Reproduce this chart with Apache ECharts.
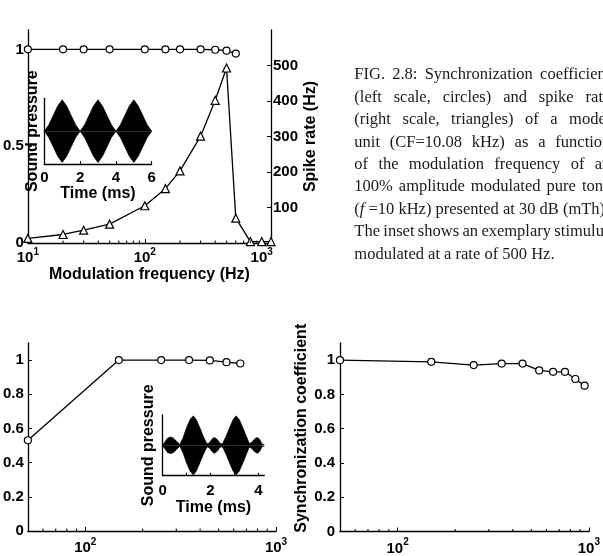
<!DOCTYPE html>
<html><head><meta charset="utf-8">
<script src="https://cdn.jsdelivr.net/npm/echarts@6/dist/echarts.min.js"></script>
<style>html,body{margin:0;padding:0;background:#fff}#c{width:603px;height:556px}</style>
</head><body><div id="c"></div><script>
// ---------- data ----------
const topFreqSync = [10, 20, 30, 50, 100, 150, 200, 300, 400, 500, 600];
const topSync = [1, 1, 1, 1, 1, 1, 1, 1, 0.998, 0.993, 0.978];
const topFreqRate = [10, 20, 30, 50, 100, 150, 200, 300, 400, 500, 600, 800, 1000, 1200];
const topRate = [13, 24, 36, 53, 105, 153, 203, 301, 402, 493, 70, 4, 4, 4];
const blFreq = [50, 150, 250, 350, 450, 550, 650];
const blSync = [0.531, 1.0, 1.0, 1.0, 0.998, 0.988, 0.980];
const brFreq = [50, 150, 250, 350, 450, 550, 650, 750, 850, 950];
const brSync = [1.0, 0.990, 0.971, 0.980, 0.980, 0.940, 0.932, 0.932, 0.890, 0.851];
// inset 1: envelope of the 500 Hz AM stimulus
const inset1Time = [0, 0.25, 0.5, 0.75, 1, 1.25, 1.5, 1.75, 2, 2.25, 2.5, 2.75, 3, 3.25, 3.5, 3.75, 4, 4.25, 4.5, 4.75, 5, 5.25, 5.5, 5.75, 6];
const inset1Env = [0, 0.2, 0.5, 0.8, 1, 0.8, 0.5, 0.2, 0, 0.2, 0.5, 0.8, 1, 0.8, 0.5, 0.2, 0, 0.2, 0.5, 0.8, 1, 0.8, 0.5, 0.2, 0];
// inset 2: envelope of the bottom-left stimulus
const inset2Time = [0, 0.1, 0.2, 0.33, 0.45, 0.6, 0.72, 0.85, 1.0, 1.15, 1.28, 1.4, 1.55, 1.7, 1.85, 1.95, 2.05, 2.16, 2.28, 2.4, 2.5, 2.65, 2.8, 2.95, 3.07, 3.2, 3.35, 3.5, 3.62, 3.72, 3.85, 3.96, 4.06, 4.15, 4.25];
const inset2Env = [0.02, 0.12, 0.24, 0.28, 0.24, 0.12, 0.03, 0.25, 0.6, 0.88, 1, 0.88, 0.6, 0.3, 0.05, 0.08, 0.2, 0.27, 0.2, 0.06, 0.05, 0.3, 0.6, 0.88, 1, 0.88, 0.6, 0.3, 0.06, 0.1, 0.22, 0.27, 0.2, 0.05, 0.02];
const minorTop = [20, 30, 40, 50, 60, 70, 80, 90, 200, 300, 400, 500, 600, 700, 800, 900];
const minorBottom = [60, 70, 80, 90, 200, 300, 400, 500, 600, 700, 800, 900];
const leftTicksTop = [0, 0.5, 1];
const rightTicksTop = [100, 200, 300, 400, 500];
const syncTicks = [0, 0.2, 0.4, 0.6, 0.8, 1];
const inset1Ticks = [0, 2, 4, 6];
const inset2Labels = [0, 2, 4];
const inset2Ticks = [0, 1, 2, 3, 4];
const captionLines = [
  "FIG. 2.8: Synchronization coefficient",
  "(left scale, circles) and spike rate",
  "(right scale, triangles) of a model",
  "unit (CF=10.08 kHz) as a function",
  "of the modulation frequency of an",
  "100% amplitude modulated pure tone",
  "(*f* =10 kHz) presented at 30 dB (mTh).",
  "The inset shows an exemplary stimulus",
  "modulated at a rate of 500 Hz."
];
const captionJustify = [true, true, true, true, true, true, false, true, false];

// ---------- helpers ----------
const FONT = '"Liberation Sans", Arial, sans-serif';
const zip = (a, b) => a.map((v, i) => [v, b[i]]);
const lbl = (size) => ({ fontFamily: FONT, fontWeight: 'bold', fontSize: size, color: '#000' });
const logFmt = v => {
  const l = Math.log10(v);
  if (Math.abs(l - Math.round(l)) < 1e-6) return '{b|10}{s|' + Math.round(l) + '}';
  return '';
};
const logRich = { b: { fontFamily: FONT, fontWeight: 'bold', fontSize: 15, color: '#000' },
                  s: { fontFamily: FONT, fontWeight: 'bold', fontSize: 10, color: '#000', padding: [0, 0, 12, 0] } };
const axLine = { show: true, onZero: false, lineStyle: { color: '#000', width: 1.3 } };

function logX(grid, min, max, margin) {
  return { type: 'log', logBase: 10, gridIndex: grid, min, max,
    axisLine: axLine, splitLine: { show: false },
    axisTick: { show: true, inside: true, length: 4, lineStyle: { color: '#000', width: 1 } },
    axisLabel: { formatter: logFmt, rich: logRich, margin } };
}
function valY(grid, min, max, ticks, margin, extra) {
  return Object.assign({ type: 'value', gridIndex: grid, min, max,
    axisLine: axLine, splitLine: { show: false },
    axisTick: { show: true, inside: true, length: 4, customValues: ticks, lineStyle: { color: '#000', width: 1 } },
    axisLabel: Object.assign(lbl(15), { customValues: ticks, margin }) }, extra || {});
}
function minorSeries(xi, yi, vals) {
  return { type: 'custom', xAxisIndex: xi, yAxisIndex: yi, silent: true, z: 5,
    data: vals.map(v => [v, 0]),
    renderItem: (params, api) => {
      const p = api.coord([api.value(0), api.value(1)]);
      return { type: 'line', shape: { x1: p[0], y1: p[1], x2: p[0], y2: p[1] - 2.5 },
               style: { stroke: '#000', lineWidth: 1 } };
    } };
}
const circle = { symbol: 'circle', symbolSize: 7, itemStyle: { color: '#fff', borderColor: '#000', borderWidth: 1.2 } };
const lineSt = { color: '#000', width: 1.3 };
function envSeries(xi, yi, t, env, sign) {
  return { type: 'line', xAxisIndex: xi, yAxisIndex: yi, showSymbol: false, silent: true,
    data: t.map((v, i) => [v, sign * env[i]]),
    lineStyle: { color: '#000', width: 0.8 }, areaStyle: { color: '#000', opacity: 1, origin: 0 } };
}

function buildCaption() {
  const ctx = document.createElement('canvas').getContext('2d');
  const fs = 16.5, fam = '"Liberation Serif", "Times New Roman", serif';
  const x0 = 354.3, W = 256, y0 = 75, lh = 22.4;
  const els = [];
  ctx.font = fs + 'px ' + fam;
  const space = ctx.measureText(' ').width;
  captionLines.forEach((line, i) => {
    const words = line.split(' ').map(w => w.split('*').map((t, k) => ({ t, it: k % 2 === 1 })).filter(s => s.t.length));
    const widths = words.map(ws => ws.reduce((a, s) => { ctx.font = (s.it ? 'italic ' : '') + fs + 'px ' + fam; return a + ctx.measureText(s.t).width; }, 0));
    const total = widths.reduce((a, b) => a + b, 0);
    const gap = captionJustify[i] && words.length > 1 ? (W - total) / (words.length - 1) : space;
    let x = x0;
    const y = y0 + i * lh;
    words.forEach((ws, j) => {
      let xx = x;
      ws.forEach((s, k) => {
        const font = (s.it ? 'italic ' : '') + fs + 'px ' + fam;
        ctx.font = font;
        els.push({ type: 'text', x: xx, y, silent: true, style: { text: s.t, font, fill: '#1a1a1a', verticalAlign: 'middle' } });
        xx += ctx.measureText(s.t).width + (s.it ? 2 : 0);
      });
      x += widths[j] + gap;
    });
  });
  return els;
}

const chart = echarts.init(document.getElementById('c'), null, { renderer: 'canvas' });
const option = {
  backgroundColor: '#fff',
  animation: false,
  textStyle: { fontFamily: FONT },
  grid: [
    { left: 19, right: 332, top: 30, bottom: 313 },        // 0 top main
    { left: 44.3, right: 451.3, top: 98.3, bottom: 392 },  // 1 top inset
    { left: 24, right: 327, top: 343, bottom: 25 },        // 2 bottom-left
    { left: 162.7, right: 338.7, top: 415, bottom: 80.3 }, // 3 bottom-left inset
    { left: 340, right: 11, top: 343, bottom: 24 }         // 4 bottom-right
  ],
  xAxis: [
    Object.assign(logX(0, 10, 1200, 4), { name: 'Modulation frequency (Hz)', nameLocation: 'middle', nameGap: 24, nameTextStyle: lbl(16) }),
    { type: 'value', gridIndex: 1, min: 0, max: 6, axisLine: axLine, splitLine: { show: false },
      axisTick: { show: true, inside: true, length: 3, customValues: inset1Ticks, lineStyle: { color: '#000' } },
      axisLabel: Object.assign(lbl(15), { customValues: inset1Ticks, margin: 6 }),
      name: 'Time (ms)', nameLocation: 'middle', nameGap: 20, nameTextStyle: lbl(16) },
    logX(2, 50, 1000, 6),
    { type: 'value', gridIndex: 3, min: 0, max: 4.25, axisLine: axLine, splitLine: { show: false },
      axisTick: { show: true, inside: true, length: 3, customValues: inset2Ticks, lineStyle: { color: '#000' } },
      axisLabel: Object.assign(lbl(15), { customValues: inset2Labels, margin: 8 }),
      name: 'Time (ms)', nameLocation: 'middle', nameGap: 22, nameTextStyle: lbl(16) },
    logX(4, 50, 1000, 6)
  ],
  yAxis: [
    valY(0, 0, 1.1, leftTicksTop, 4),
    valY(0, 0, 600, rightTicksTop, 2, { position: 'right', name: 'Spike rate (Hz)', nameLocation: 'middle', nameGap: 32, nameTextStyle: lbl(16) }),
    { type: 'value', gridIndex: 1, min: -1.05, max: 1.05, axisLine: axLine, splitLine: { show: false },
      axisTick: { show: false }, axisLabel: { show: false },
      name: 'Sound pressure', nameLocation: 'middle', nameGap: 4, nameTextStyle: lbl(16) },
    valY(2, 0, 1.1, syncTicks, 4),
    { type: 'value', gridIndex: 3, min: -1.03, max: 1.03, axisLine: axLine, splitLine: { show: false },
      axisTick: { show: false }, axisLabel: { show: false },
      name: 'Sound pressure', nameLocation: 'middle', nameGap: 6, nameTextStyle: lbl(16) },
    valY(4, 0, 1.1, syncTicks, 5, { name: 'Synchronization coefficient', nameLocation: 'middle', nameGap: 30,
      nameTextStyle: Object.assign(lbl(16), { padding: [0, 0, 0, 18] }) })
  ],
  series: [
    minorSeries(0, 0, minorTop),
    minorSeries(2, 3, minorBottom),
    minorSeries(4, 5, minorBottom),
    Object.assign({ type: 'line', xAxisIndex: 0, yAxisIndex: 0, data: zip(topFreqSync, topSync), lineStyle: lineSt, z: 3 }, circle),
    { type: 'line', xAxisIndex: 0, yAxisIndex: 1, data: zip(topFreqRate, topRate), lineStyle: lineSt, z: 3,
      symbol: 'triangle', symbolSize: 8, itemStyle: { color: '#fff', borderColor: '#000', borderWidth: 1.2 } },
    envSeries(1, 2, inset1Time, inset1Env, 1),
    envSeries(1, 2, inset1Time, inset1Env, -1),
    Object.assign({ type: 'line', xAxisIndex: 2, yAxisIndex: 3, data: zip(blFreq, blSync), lineStyle: lineSt, z: 3 }, circle),
    envSeries(3, 4, inset2Time, inset2Env, 1),
    envSeries(3, 4, inset2Time, inset2Env, -1),
    Object.assign({ type: 'line', xAxisIndex: 4, yAxisIndex: 5, data: zip(brFreq, brSync), lineStyle: lineSt, z: 3 }, circle)
  ],
  graphic: buildCaption()
};
chart.setOption(option);
</script></body></html>
